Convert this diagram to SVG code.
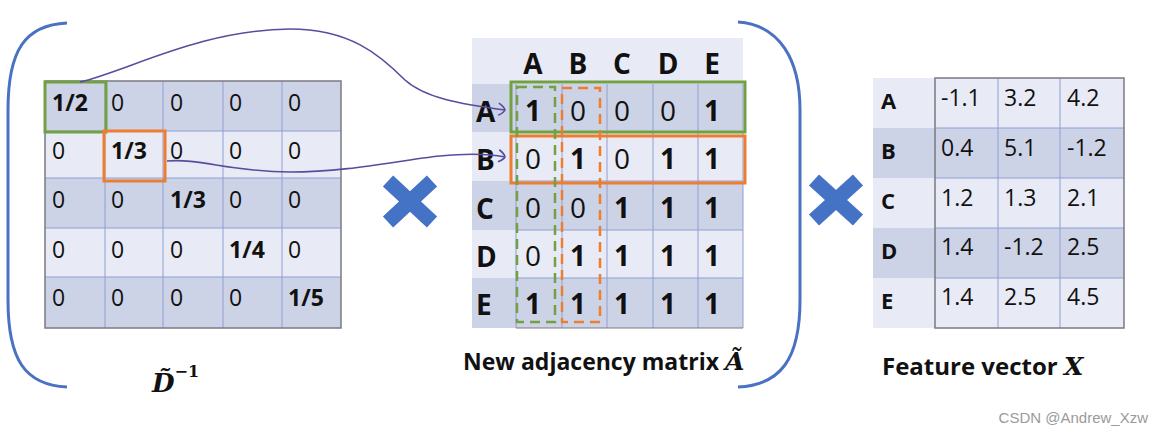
<svg xmlns="http://www.w3.org/2000/svg" width="1164" height="433" viewBox="0 0 1164 433">
<defs>
<style>
.dk{fill:#cdd3e7}
.lt{fill:#e8ebf5}
.grid{stroke:#8e9fd2;stroke-width:1;fill:none}
.border{stroke:#7a7a80;stroke-width:1.5;fill:none}
.t{font-family:"Open Sans","Liberation Sans",sans-serif;fill:#111}
.v{font-size:23px}
.b{font-weight:bold}
.m{font-size:28px;text-anchor:middle}
.br{stroke:#4a72c2;stroke-width:3;fill:none}
.cross{stroke:#4472c4;stroke-width:15;stroke-linecap:butt}
.conn{stroke:#5a4b9e;stroke-width:1.6;fill:none}
.gbox{stroke:#72a043;stroke-width:3;fill:none}
.obox{stroke:#ed7d31;stroke-width:3;fill:none}
.math{font-family:"DejaVu Serif","Liberation Serif",serif;font-style:italic;font-weight:bold;fill:#111}
</style>
<marker id="arr" markerWidth="12" markerHeight="14" refX="9" refY="7" orient="auto" markerUnits="userSpaceOnUse">
<path d="M2,1 Q8,4 9,7 Q8,10 3,13" fill="none" stroke="#5a4b9e" stroke-width="1.6"/>
</marker>
</defs>
<rect width="1164" height="433" fill="#ffffff"/>

<g id="brackets">
<path class="br" d="M67 23 C25 25 8 50 8 110 L8 300 C8 360 25 385 67 387"/>
<path class="br" d="M738 22 C780 25 800 60 800 110 L800 300 C800 360 780 385 738 387"/>
</g>

<g id="matrix-D">
<rect class="dk" x="45" y="81" width="296" height="50"/>
<rect class="lt" x="45" y="131" width="296" height="47"/>
<rect class="dk" x="45" y="178" width="296" height="50"/>
<rect class="lt" x="45" y="228" width="296" height="49"/>
<rect class="dk" x="45" y="277" width="296" height="51"/>
<path class="grid" d="M105 81V328M163 81V328M223 81V328M282 81V328M45 131H341M45 178H341M45 228H341M45 277H341"/>
<rect class="border" x="45" y="81" width="296" height="247"/>
<g class="t v">
<text x="52" y="111" class="b">1/2</text><text x="111" y="111">0</text><text x="170" y="111">0</text><text x="229" y="111">0</text><text x="288" y="111">0</text>
<text x="52" y="159">0</text><text x="111" y="159" class="b">1/3</text><text x="170" y="159">0</text><text x="229" y="159">0</text><text x="288" y="159">0</text>
<text x="52" y="208">0</text><text x="111" y="208">0</text><text x="170" y="208" class="b">1/3</text><text x="229" y="208">0</text><text x="288" y="208">0</text>
<text x="52" y="258">0</text><text x="111" y="258">0</text><text x="170" y="258">0</text><text x="229" y="258" class="b">1/4</text><text x="288" y="258">0</text>
<text x="52" y="306">0</text><text x="111" y="306">0</text><text x="170" y="306">0</text><text x="229" y="306">0</text><text x="288" y="306" class="b">1/5</text>
</g>
<rect class="gbox" x="45" y="82" width="61" height="50"/>
<rect class="obox" x="104" y="131" width="61" height="50"/>
<text class="math" x="152" y="392" font-size="26">D̃<tspan font-size="16" dy="-15" font-style="normal">−1</tspan></text>
</g>

<g id="cross-1"><path class="cross" d="M388 181L432 222M432 181L388 222"/></g>

<g id="matrix-A">
<rect class="lt" x="472" y="38" width="271" height="290"/>
<rect class="dk" x="472" y="84" width="271" height="48"/>
<rect class="dk" x="472" y="181" width="271" height="49"/>
<rect class="dk" x="472" y="278" width="271" height="50"/>
<path class="grid" d="M516 84V328M562 84V328M607 84V328M653 84V328M698 84V328M743 84V328M516 132H743M516 181H743M516 230H743M516 278H743"/>
<path d="M516 328H743" stroke="#7a7a80" stroke-width="1.2"/>
<g class="t m b">
<text x="533" y="74">A</text><text x="578" y="74">B</text><text x="622" y="74">C</text><text x="668" y="74">D</text><text x="712" y="74">E</text>
</g>
<g class="t b" font-size="28">
<text x="476" y="122">A</text><text x="476" y="170">B</text><text x="476" y="219">C</text><text x="476" y="267">D</text><text x="476" y="315">E</text>
</g>
<g class="t m">
<text x="533" y="121" font-weight="bold">1</text><text x="578" y="121">0</text><text x="622" y="121">0</text><text x="668" y="121">0</text><text x="712" y="121" font-weight="bold">1</text>
<text x="533" y="169">0</text><text x="578" y="169" font-weight="bold">1</text><text x="622" y="169">0</text><text x="668" y="169" font-weight="bold">1</text><text x="712" y="169" font-weight="bold">1</text>
<text x="533" y="218">0</text><text x="578" y="218">0</text><text x="622" y="218" font-weight="bold">1</text><text x="668" y="218" font-weight="bold">1</text><text x="712" y="218" font-weight="bold">1</text>
<text x="533" y="266">0</text><text x="578" y="266" font-weight="bold">1</text><text x="622" y="266" font-weight="bold">1</text><text x="668" y="266" font-weight="bold">1</text><text x="712" y="266" font-weight="bold">1</text>
<text x="533" y="314" font-weight="bold">1</text><text x="578" y="314" font-weight="bold">1</text><text x="622" y="314" font-weight="bold">1</text><text x="668" y="314" font-weight="bold">1</text><text x="712" y="314" font-weight="bold">1</text>
</g>
<rect class="gbox" x="511" y="82" width="234" height="50"/>
<rect class="obox" x="511" y="136" width="234" height="47"/>
<rect x="517" y="87" width="38" height="235" fill="none" stroke="#72a043" stroke-width="2.5" stroke-dasharray="10 6"/>
<rect x="562" y="88" width="38" height="234" fill="none" stroke="#ed7d31" stroke-width="2.5" stroke-dasharray="10 6"/>
<text class="t b" x="463" y="370" font-size="23">New adjacency matrix <tspan class="math" font-size="25">Ã</tspan></text>
</g>

<g id="cross-2"><path class="cross" d="M814 180L858 220M858 180L814 220"/></g>

<g id="matrix-X">
<rect class="lt" x="873" y="78" width="251" height="50"/>
<rect class="dk" x="873" y="128" width="251" height="50"/>
<rect class="lt" x="873" y="178" width="251" height="50"/>
<rect class="dk" x="873" y="228" width="251" height="50"/>
<rect class="lt" x="873" y="278" width="251" height="50"/>
<path class="grid" d="M998 78V328M1060 78V328M935 128H1124M935 178H1124M935 228H1124M935 278H1124"/>
<rect class="border" x="935" y="78" width="189" height="250"/>
<g class="t b" font-size="22">
<text x="881" y="109">A</text><text x="881" y="159">B</text><text x="881" y="209">C</text><text x="881" y="259">D</text><text x="881" y="309">E</text>
</g>
<g class="t v">
<text x="941" y="106">-1.1</text><text x="1004" y="106">3.2</text><text x="1067" y="106">4.2</text>
<text x="941" y="156">0.4</text><text x="1004" y="156">5.1</text><text x="1067" y="156">-1.2</text>
<text x="941" y="206">1.2</text><text x="1004" y="206">1.3</text><text x="1067" y="206">2.1</text>
<text x="941" y="255">1.4</text><text x="1004" y="255">-1.2</text><text x="1067" y="255">2.5</text>
<text x="941" y="305">1.4</text><text x="1004" y="305">2.5</text><text x="1067" y="305">4.5</text>
</g>
<text class="t b" x="882" y="375" font-size="24">Feature vector <tspan class="math" font-size="25">X</tspan></text>
</g>

<g id="connectors">
<path class="conn" marker-end="url(#arr)" d="M80 82 C130 70 200 30 290 29 C350 29 380 55 405 80 C425 98 460 104 505 110"/>
<path class="conn" marker-end="url(#arr)" d="M167 161 C200 158 230 172 290 172 C350 172 400 160 440 156 C470 153 490 154 505 157"/>
</g>

<text x="1148" y="423" text-anchor="end" font-family="Liberation Sans, Arial, sans-serif" font-size="15" fill="#9a9a9a">CSDN @Andrew_Xzw</text>
</svg>
